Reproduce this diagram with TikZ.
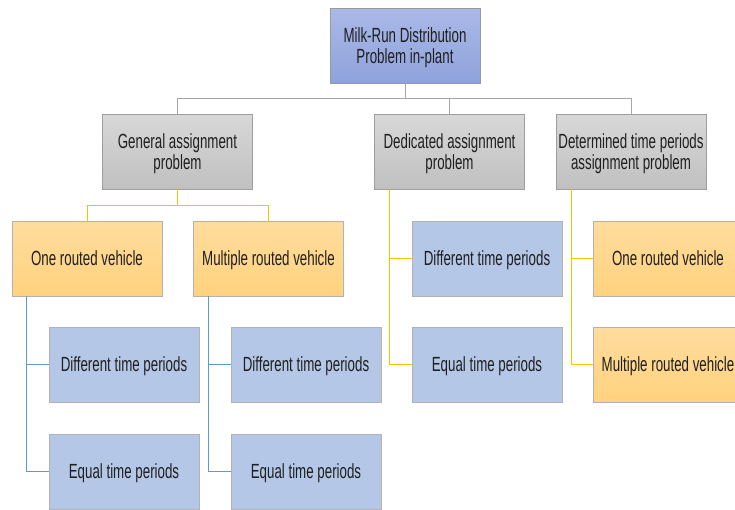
\documentclass[tikz,border=0pt]{standalone}
\usepackage{fontspec}
\setmainfont[FakeStretch=0.65]{Liberation Sans}
\begin{document}
\begin{tikzpicture}[x=1pt,y=-1pt]
\definecolor{rootTop}{HTML}{AAB9E8}
\definecolor{rootBot}{HTML}{8FA2DB}
\definecolor{grayTop}{HTML}{D8D8D8}
\definecolor{grayBot}{HTML}{C0C0C0}
\definecolor{orTop}{HTML}{FFDC9E}
\definecolor{orBot}{HTML}{FFD27D}
\definecolor{blueFill}{HTML}{B4C7E7}
\definecolor{lineGray}{HTML}{A6A6A6}
\definecolor{lineGold}{HTML}{FFC000}
\definecolor{lineBlue}{HTML}{5B9BD5}
\tikzset{
  box/.style={rectangle, minimum width=150pt, minimum height=75pt, inner sep=2pt,
    align=center, font=\fontsize{20.5}{20.5}\selectfont, text=black!88, line width=0.8pt,
    text depth=0pt},
  rootbox/.style={box, draw=black!40, top color=rootTop, bottom color=rootBot},
  graybox/.style={box, draw=black!38, top color=grayTop, bottom color=grayBot},
  orangebox/.style={box, draw=black!30, top color=orTop, bottom color=orBot},
  bluebox/.style={box, draw=black!30, fill=blueFill},
  grayline/.style={draw=lineGray, line width=1pt},
  goldline/.style={draw=lineGold, line width=1pt},
  blueline/.style={draw=lineBlue, line width=1pt},
}
\clip (0,0) rectangle (735,509);
\fill[white] (0,0) rectangle (735,509);

% top level
\node[rootbox] (root) at (405,45.5) {Milk-Run Distribution\\Problem in-plant};

% second level
\node[graybox] (gen) at (177.5,151.5) {General assignment\\problem};
\node[graybox] (ded) at (449.5,151.5) {Dedicated assignment\\problem};
\node[graybox] (det) at (631,151.5) {Determined time periods\\assignment problem};

% general assignment branch
\node[orangebox] (one) at (87,258.5) {One routed vehicle};
\node[orangebox] (mul) at (268.5,258.5) {Multiple routed vehicle};
\node[bluebox] (onediff) at (124,364.5) {Different time periods};
\node[bluebox] (oneeq) at (124,471.5) {Equal time periods};
\node[bluebox] (muldiff) at (306,364.5) {Different time periods};
\node[bluebox] (muleq) at (306,471.5) {Equal time periods};

% dedicated assignment branch
\node[bluebox] (deddiff) at (487,258.5) {Different time periods};
\node[bluebox] (dedeq) at (487,364.5) {Equal time periods};

% determined time periods branch
\node[orangebox] (detone) at (668,258.5) {One routed vehicle};
\node[orangebox] (detmul) at (668,364.5) {Multiple routed vehicle};

% connectors
\draw[grayline] (root.south) -- ++(0,15) -| (gen.north);
\draw[grayline] (root.south) -- ++(0,15) -| (ded.north);
\draw[grayline] (root.south) -- ++(0,15) -| (det.north);

\draw[goldline] (gen.south) -- ++(0,16) -| (one.north);
\draw[goldline] (gen.south) -- ++(0,16) -| (mul.north);

\draw[blueline] ([xshift=15]one.south west) |- (onediff.west);
\draw[blueline] ([xshift=15]one.south west) |- (oneeq.west);
\draw[blueline] ([xshift=15]mul.south west) |- (muldiff.west);
\draw[blueline] ([xshift=15]mul.south west) |- (muleq.west);

\draw[goldline] ([xshift=15]ded.south west) |- (deddiff.west);
\draw[goldline] ([xshift=15]ded.south west) |- (dedeq.west);

\draw[goldline] ([xshift=16]det.south west) |- (detone.west);
\draw[goldline] ([xshift=16]det.south west) |- (detmul.west);
\end{tikzpicture}
\end{document}
